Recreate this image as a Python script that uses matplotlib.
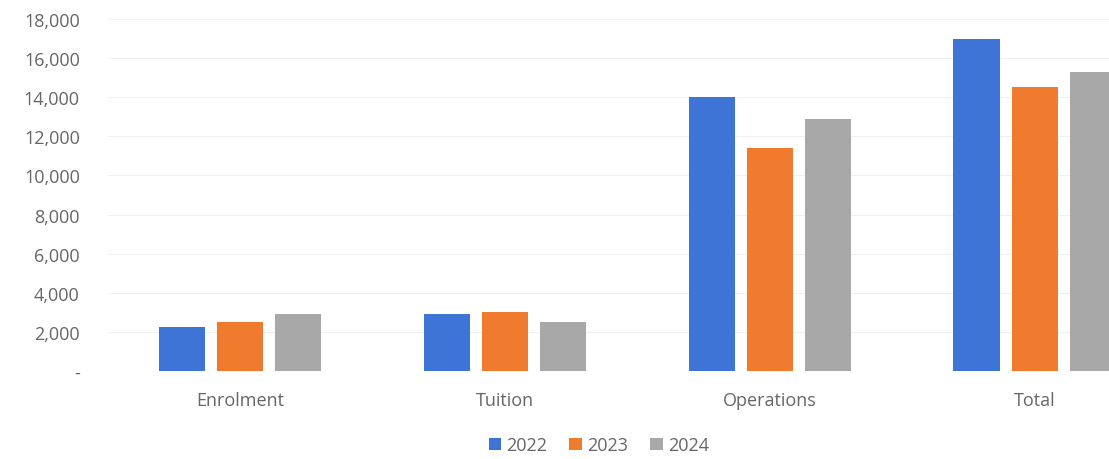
import numpy as np
import matplotlib.pyplot as plt

# values
categories = ['Enrolment', 'Tuition', 'Operations', 'Total']
years = ['2022', '2023', '2024']
v2022 = [2250, 2900, 14000, 16950]
v2023 = [2500, 3000, 11400, 14500]
v2024 = [2900, 2500, 12900, 15300]
colors = ['#3d74d6', '#f07a2e', '#a8a8a8']

plt.rcParams['font.family'] = ['Open Sans', 'DejaVu Sans']

fig = plt.figure(figsize=(11.09, 4.6), dpi=100)
ax = fig.add_axes([0.097, 0.191, 0.903, 0.766])

x = np.arange(len(categories))
w = 0.174
step = 0.22
for i, (vals, c, lab) in enumerate(zip([v2022, v2023, v2024], colors, years)):
    ax.bar(x + (i - 1) * step, vals, width=w, color=c, label=lab, zorder=2)

ax.set_ylim(0, 18000)
ax.set_xlim(-0.5, 3.28)
ax.set_yticks(np.arange(0, 18001, 2000))
ax.set_yticklabels(['-' if t == 0 else '{:,}'.format(t) for t in np.arange(0, 18001, 2000)])
ax.set_xticks(x)
ax.set_xticklabels(categories)
ax.grid(axis='y', color='#f0f0f0', linewidth=0.8, zorder=0)
for s in ax.spines.values():
    s.set_visible(False)
ax.tick_params(axis='both', length=0, labelsize=13, colors='#666666')
ax.tick_params(axis='x', pad=14)
ax.tick_params(axis='y', pad=20)

fig.legend(loc='center', bbox_to_anchor=(0.54, 0.03), ncol=3, frameon=False,
           fontsize=13, handlelength=0.7, handleheight=0.7, handletextpad=0.3,
           columnspacing=1.2, labelcolor='#666666')

plt.savefig('out.png')
